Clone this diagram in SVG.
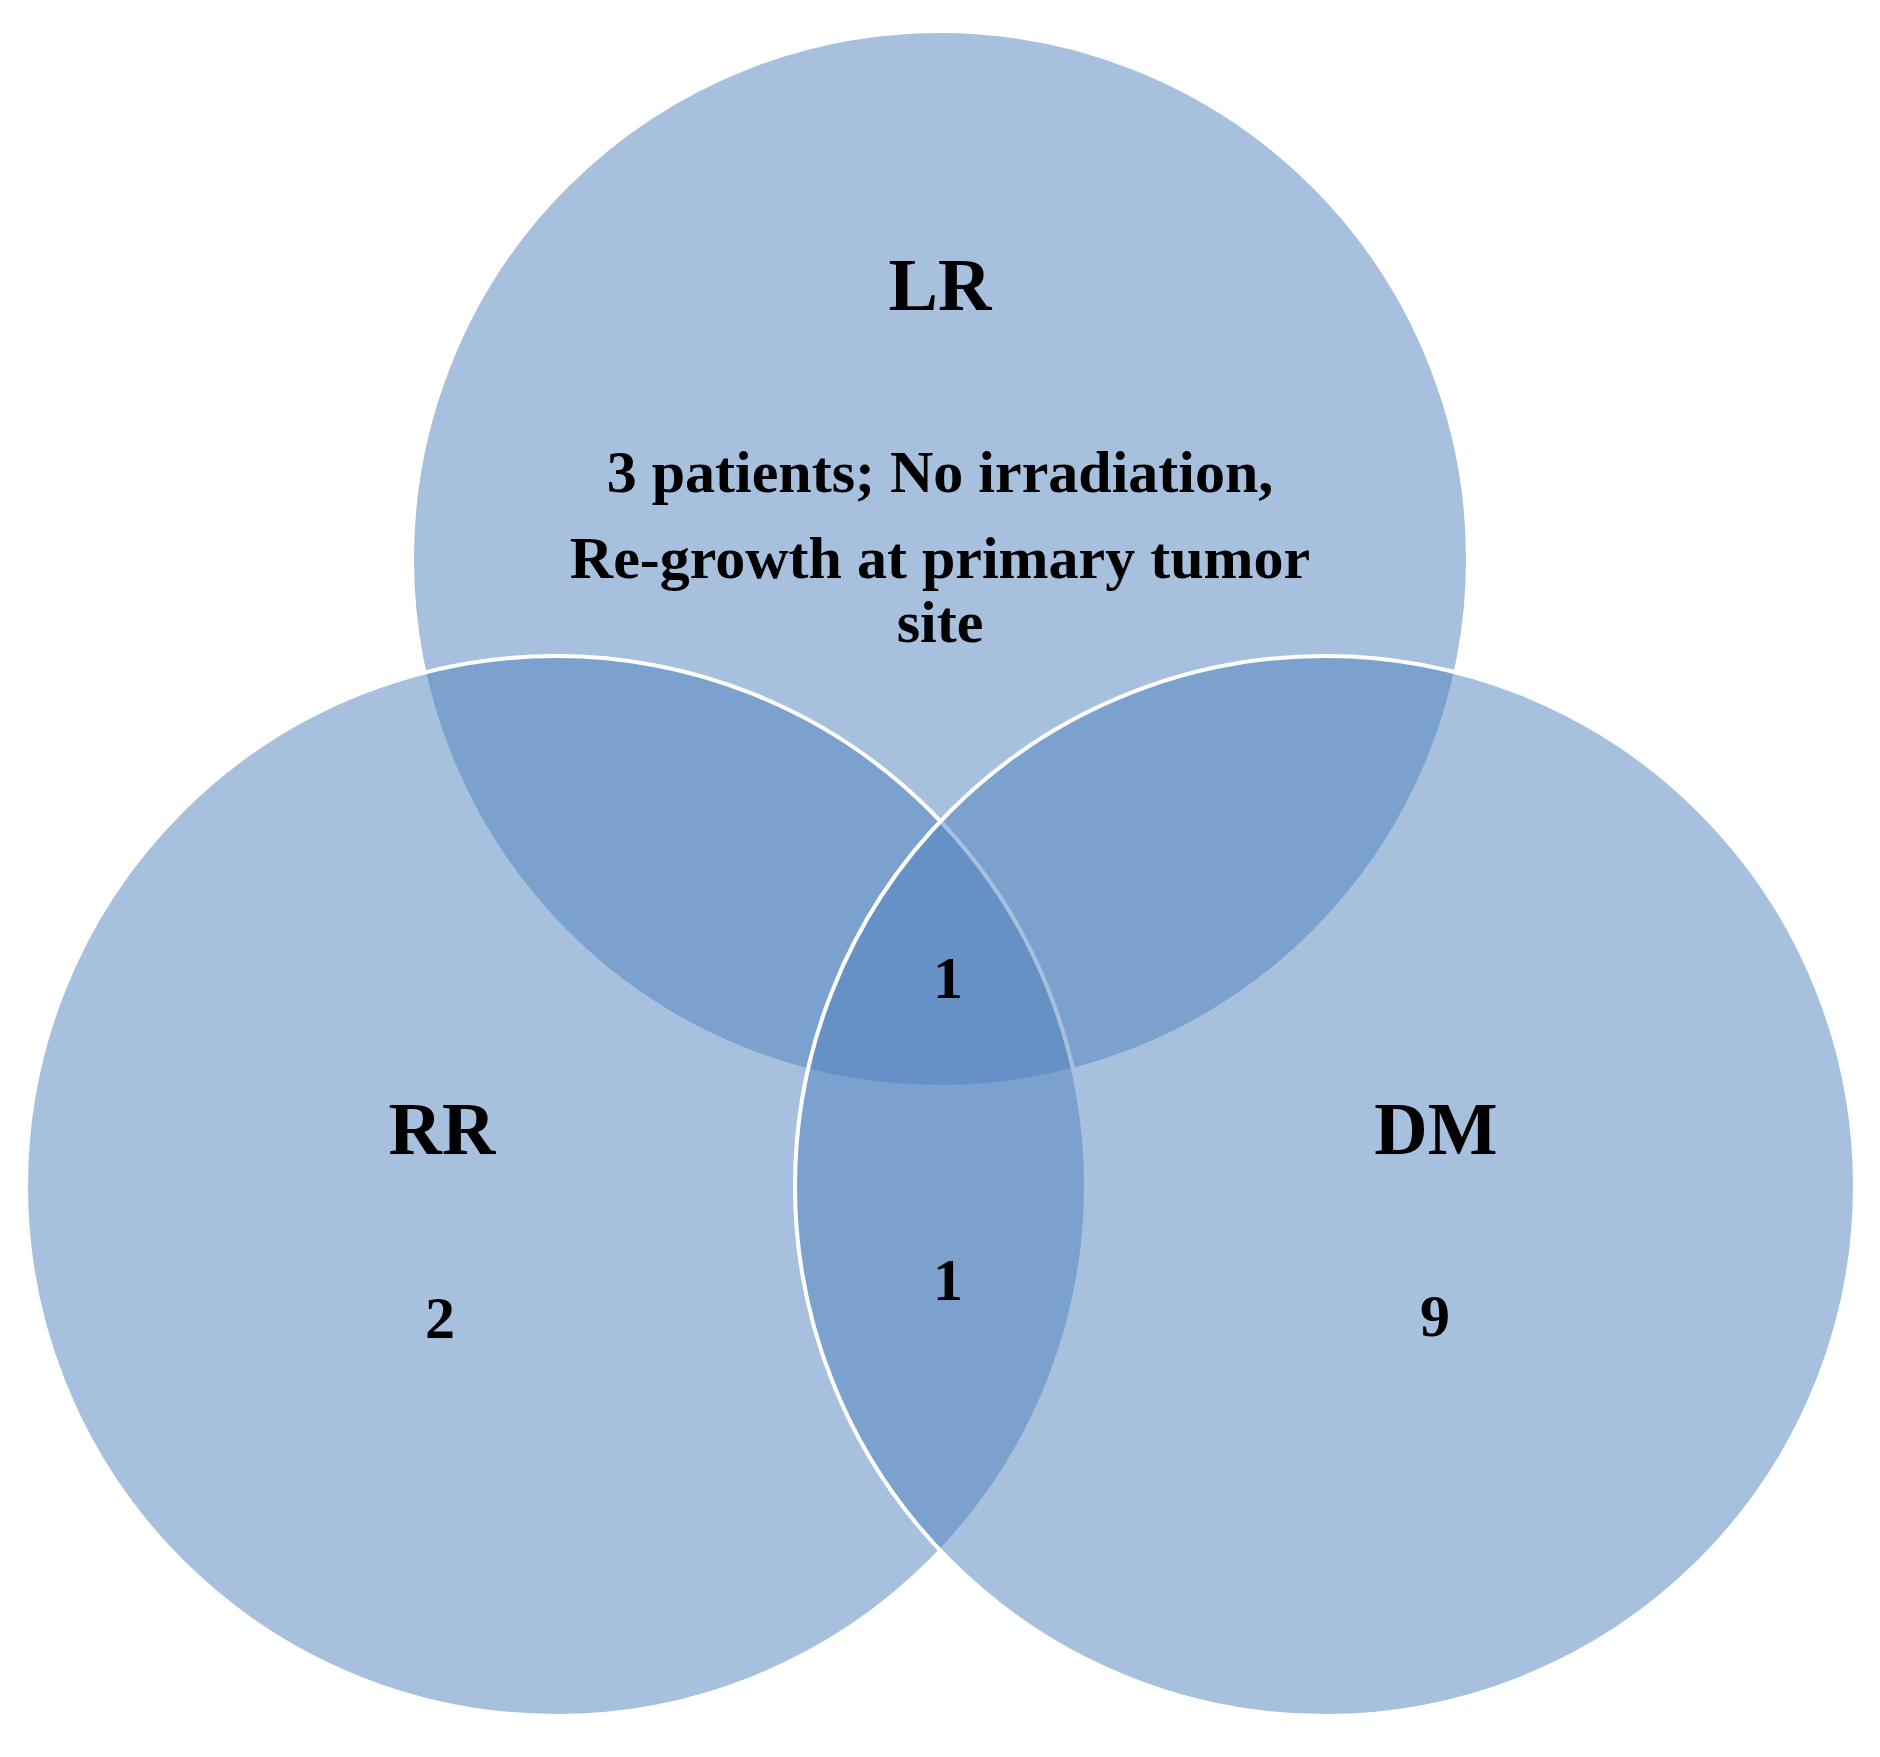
<svg xmlns="http://www.w3.org/2000/svg" width="1880" height="1757" viewBox="0 0 1880 1757">
<style>
.c{fill:#4f81bd;fill-opacity:0.5;stroke:#ffffff;stroke-width:4}
.t{font-family:"Liberation Serif",serif;font-weight:bold;fill:#000;text-anchor:middle;dominant-baseline:central}
.h{font-size:74px}.b{font-size:60px}
</style>
<rect width="1880" height="1757" fill="#ffffff"/>
<g id="LR"><circle class="c" cx="940" cy="559" r="528"/></g>
<g id="RR"><circle class="c" cx="556" cy="1186" r="530"/></g>
<g id="DM"><circle class="c" cx="1325" cy="1186" r="530"/></g>
<g id="labels">
<text class="t h" x="940" y="285">LR</text>
<text class="t b" x="940" y="472">3 patients;  No irradiation,</text>
<text class="t b" x="940" y="558">Re-growth  at primary  tumor</text>
<text class="t b" x="940" y="622">site</text>
<text class="t h" x="442" y="1129">RR</text>
<text class="t h" x="1436" y="1129">DM</text>
<text class="t b" x="440" y="1318">2</text>
<text class="t b" x="1435" y="1316">9</text>
<text class="t b" x="948" y="978">1</text>
<text class="t b" x="948" y="1280">1</text>
</g>
<g id="connectors"/>
</svg>
